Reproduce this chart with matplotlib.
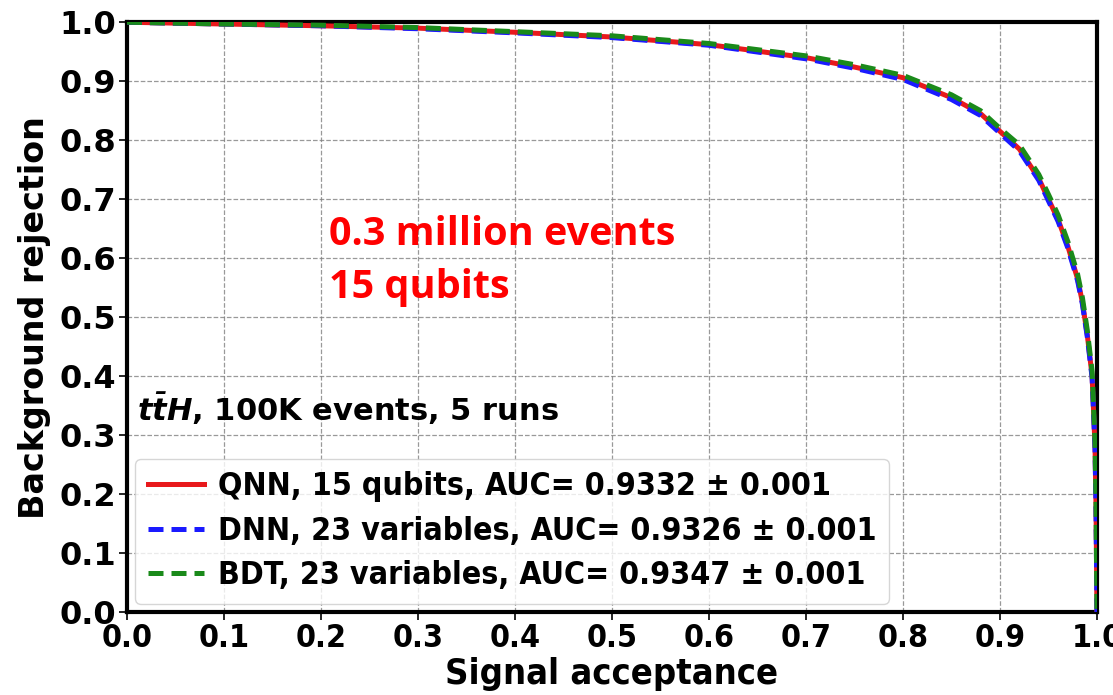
import matplotlib
matplotlib.use("Agg")
import matplotlib.pyplot as plt

# ----------------------------------------
# DATA
# ----------------------------------------
signal_acc = [0.0, 0.1, 0.2, 0.3, 0.4, 0.5, 0.6, 0.7, 0.75, 0.8, 0.85, 0.88,
              0.9, 0.92, 0.94, 0.95, 0.96, 0.97, 0.98, 0.985, 0.99, 0.995,
              0.998, 0.999, 1.0]
qnn_rej = [1.0, 0.997, 0.994, 0.99, 0.983, 0.975, 0.962, 0.94, 0.924, 0.906,
           0.872, 0.845, 0.815, 0.785, 0.735, 0.70, 0.665, 0.62, 0.565,
           0.525, 0.47, 0.40, 0.28, 0.18, 0.0]
dnn_rej = [1.0, 0.997, 0.994, 0.989, 0.982, 0.974, 0.961, 0.938, 0.922, 0.903,
           0.869, 0.842, 0.812, 0.782, 0.732, 0.697, 0.662, 0.617, 0.562,
           0.522, 0.467, 0.397, 0.277, 0.177, 0.0]
bdt_rej = [1.0, 0.997, 0.995, 0.991, 0.984, 0.977, 0.964, 0.943, 0.928, 0.910,
           0.877, 0.850, 0.820, 0.792, 0.742, 0.708, 0.673, 0.628, 0.573,
           0.533, 0.478, 0.408, 0.288, 0.188, 0.0]

labels = ["QNN, 15 qubits, AUC= 0.9332 ± 0.001",
          "DNN, 23 variables, AUC= 0.9326 ± 0.001",
          "BDT, 23 variables, AUC= 0.9347 ± 0.001"]

ticks = [0.0, 0.1, 0.2, 0.3, 0.4, 0.5, 0.6, 0.7, 0.8, 0.9, 1.0]

plt.rcParams["mathtext.fontset"] = "dejavusans"

fig = plt.figure(figsize=(11.13, 6.95), dpi=100)
ax = fig.add_axes([0.114, 0.1194, 0.8716, 0.8486])

ax.plot(signal_acc, qnn_rej, color="#e8191c", lw=3.6, label=labels[0], zorder=3)
ax.plot(signal_acc, dnn_rej, color="#1a1aff", lw=3.6, ls=(0, (3, 1.6)),
        label=labels[1], zorder=4)
ax.plot(signal_acc, bdt_rej, color="#1a8a1a", lw=3.6, ls=(0, (3, 1.6)),
        label=labels[2], zorder=5)

ax.set_xlim(0, 1)
ax.set_ylim(0, 1)
ax.set_xticks(ticks)
ax.set_yticks(ticks)
ax.set_xticklabels([f"{t:.1f}" for t in ticks], fontsize=23, fontweight="bold",
                   fontstretch="condensed")
ax.set_yticklabels([f"{t:.1f}" for t in ticks], fontsize=23, fontweight="bold")
ax.tick_params(direction="out", length=6, width=1.2, pad=2)
ax.grid(True, ls="--", color="gray", lw=0.9, alpha=0.8)
for s in ax.spines.values():
    s.set_linewidth(3)

ax.set_xlabel("Signal acceptance", fontsize=26, fontweight="bold",
              fontstretch="condensed", labelpad=2)
ax.set_ylabel("Background rejection", fontsize=24, fontweight="bold", labelpad=6)

ax.text(0.01, 0.345, r"$\mathbfit{t\bar{t}H}$, 100K events, 5 runs",
        fontsize=22, fontweight="bold", transform=ax.transAxes, va="center")

ax.text(0.208, 0.595, "0.3 million events\n15 qubits", color="red",
        fontsize=28.5, fontweight="bold", family="Open Sans",
        transform=ax.transAxes, va="center", linespacing=1.45)

leg = ax.legend(loc="lower left", prop={"size": 23, "weight": "bold",
                                        "stretch": "condensed"},
                handlelength=1.75, handletextpad=0.45, borderpad=0.4,
                labelspacing=0.42, borderaxespad=0.25, framealpha=0.8)

fig.savefig("out.png", dpi=100)
